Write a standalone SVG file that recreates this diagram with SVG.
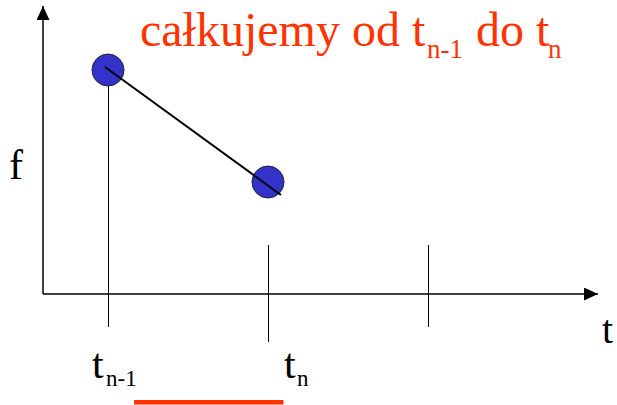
<svg xmlns="http://www.w3.org/2000/svg" width="617" height="405" viewBox="0 0 617 405">
<style>
.ax{stroke:#000;stroke-width:1.5;fill:none}
.tk{stroke:#000;stroke-width:1;fill:none}
.lbl{font-family:"Liberation Serif","Times New Roman",serif;fill:#000}
.red{font-family:"Liberation Serif","Times New Roman",serif;fill:#ff3300}
.pt{fill:#3333cc;stroke:#222;stroke-width:1}
</style>
<defs>
<marker id="ah" markerWidth="14" markerHeight="13" refX="14" refY="6.5" orient="auto" markerUnits="userSpaceOnUse">
<path d="M0,0 L14,6.5 L0,13 Z" fill="#000"/>
</marker>
</defs>
<g id="axes">
<line class="ax" x1="43" y1="294" x2="43" y2="6" marker-end="url(#ah)"/>
<line class="ax" x1="43" y1="294" x2="598" y2="294" marker-end="url(#ah)"/>
</g>
<g id="p1"><circle class="pt" cx="108" cy="70" r="16"/></g>
<g id="p2"><circle class="pt" cx="268" cy="182" r="16"/></g>
<g id="connectors">
<line class="tk" x1="108.5" y1="86" x2="108.5" y2="327"/>
<line class="tk" x1="268.5" y1="245" x2="268.5" y2="342"/>
<line class="tk" x1="428.5" y1="245" x2="428.5" y2="327"/>
<line x1="105" y1="67" x2="281" y2="195" stroke="#000" stroke-width="2"/>
</g>
<g id="title">
<text class="red" x="140" y="46" font-size="48">całkujemy od t<tspan x="427" y="57.5" font-size="27">n-1</tspan><tspan x="476" y="46">do t</tspan><tspan x="548" y="57.5" font-size="27">n</tspan></text>
</g>
<g id="labels">
<text class="lbl" x="9" y="179" font-size="42">f</text>
<text class="lbl" x="602" y="343" font-size="40">t</text>
<text class="lbl" x="92" y="377.5" font-size="42">t<tspan x="106" y="385.5" font-size="23">n-1</tspan></text>
<text class="lbl" x="284" y="377.5" font-size="42">t<tspan x="297" y="385.5" font-size="23">n</tspan></text>
</g>
<g id="bar"><rect x="134" y="400" width="149.5" height="4.5" fill="#ff3300"/></g>
</svg>
